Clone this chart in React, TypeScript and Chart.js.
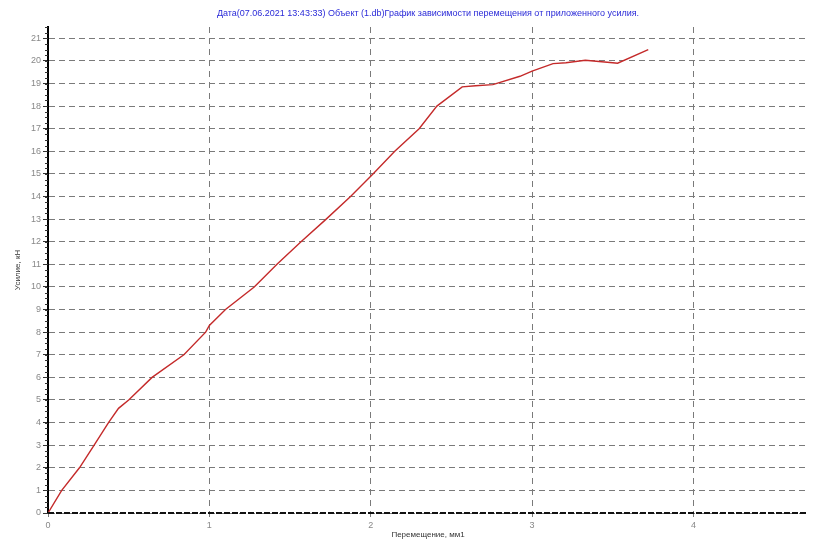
import React, { useEffect, useRef } from "react";
import { Chart, registerables } from "chart.js";

Chart.register(...registerables);

const titleText =
  "Дата(07.06.2021 13:43:33) Объект (1.db)График зависимости перемещения от приложенного усилия.";
const xTitle = "Перемещение, мм1";
const yTitle = "Усилие, кН";

const displacement = [
  0, 0.085, 0.195, 0.286, 0.375, 0.437, 0.5, 0.645, 0.842, 0.977, 1.0, 1.1, 1.278, 1.419, 1.568,
  1.724, 1.875, 2.014, 2.149, 2.3, 2.41, 2.567, 2.65, 2.757, 2.925, 3.0, 3.13, 3.21, 3.33, 3.5,
  3.53, 3.72,
];
const force = [
  0, 1, 2, 3, 4, 4.63, 5, 6, 7, 8, 8.3, 9, 10, 11, 12, 13, 14, 15, 16, 17, 18, 18.85, 18.9, 18.95,
  19.32, 19.55, 19.88, 19.92, 20.03, 19.92, 19.9, 20.5,
];
const xTicks = [0, 1, 2, 3, 4];
const yTicks = Array.from({ length: 22 }, (_, i) => i);

const FONT = "'Liberation Sans', Arial, sans-serif";

const titlePlugin = {
  id: "topTitle",
  afterDraw(chart: any) {
    const ctx = chart.ctx;
    ctx.save();
    ctx.font = `9px ${FONT}`;
    ctx.fillStyle = "#2a2ad8";
    ctx.textAlign = "center";
    ctx.textBaseline = "middle";
    ctx.fillText(titleText, 428, 14);
    ctx.restore();
  },
};

const axisPlugin = {
  id: "axisDecor",
  afterDatasetsDraw(chart: any) {
    const ctx = chart.ctx;
    const ys = chart.scales.y;
    const { left, right } = chart.chartArea;
    ctx.save();
    // dashed black x axis line at y = 0
    const y0 = ys.getPixelForValue(0);
    ctx.strokeStyle = "#111";
    ctx.lineWidth = 2;
    ctx.setLineDash([6, 2]);
    ctx.beginPath();
    ctx.moveTo(left, y0);
    ctx.lineTo(right, y0);
    ctx.stroke();
    ctx.setLineDash([]);
    // minor ticks on y axis
    ctx.strokeStyle = "#333";
    ctx.lineWidth = 1;
    for (let v = 0; v <= ys.max + 1e-9; v += 0.25) {
      const p = Math.round(ys.getPixelForValue(v)) + 0.5;
      ctx.beginPath();
      ctx.moveTo(left - 3, p);
      ctx.lineTo(left, p);
      ctx.stroke();
    }
    ctx.restore();
  },
};

export default function App() {
  const ref = useRef<HTMLCanvasElement | null>(null);
  useEffect(() => {
    if (!ref.current) return;
    const chart = new Chart(ref.current, {
      type: "scatter",
      data: {
        datasets: [
          {
            data: displacement.map((x, i) => ({ x, y: force[i] })),
            showLine: true,
            borderColor: "#c42a2a",
            borderWidth: 1.4,
            pointRadius: 0,
            tension: 0,
          },
        ],
      },
      options: {
        animation: false,
        responsive: false,
        maintainAspectRatio: false,
        layout: { padding: { top: 27, right: 6, left: 0, bottom: 0 } },
        plugins: { legend: { display: false }, tooltip: { enabled: false }, title: { display: false } },
        scales: {
          x: {
            type: "linear",
            min: 0,
            max: 4.71,
            afterBuildTicks: (s: any) => {
              s.ticks = xTicks.map((v) => ({ value: v }));
            },
            afterFit: (s: any) => {
              s.height = 28;
            },
            grid: {
              color: "#7a7a7a",
              lineWidth: 1,
              drawTicks: true,
              tickLength: 4,
              tickColor: "#7a7a7a",
            },
            border: { display: false, dash: [6, 5] },
            ticks: {
              font: { family: FONT, size: 9 },
              color: "#888",
              padding: 3,
              maxRotation: 0,
            },
            title: {
              display: true,
              text: xTitle,
              font: { family: FONT, size: 8 },
              color: "#333",
              padding: { top: 0, bottom: 1 },
            },
          },
          y: {
            type: "linear",
            min: 0,
            max: 21.5,
            afterBuildTicks: (s: any) => {
              s.ticks = yTicks.map((v) => ({ value: v }));
            },
            afterFit: (s: any) => {
              s.width = 48;
            },
            grid: {
              color: "#7a7a7a",
              lineWidth: 1,
              drawTicks: true,
              tickLength: 5,
              tickColor: "#333",
            },
            border: { display: true, color: "#000", width: 2, dash: [6, 4] },
            ticks: {
              font: { family: FONT, size: 9 },
              color: "#888",
              padding: 2,
            },
            title: {
              display: true,
              text: yTitle,
              font: { family: FONT, size: 8 },
              color: "#333",
              padding: { top: 13, bottom: 0 },
            },
          },
        },
      } as any,
      plugins: [titlePlugin, axisPlugin],
    });
    return () => chart.destroy();
  }, []);
  return (
    <div style={{ position: "fixed", left: 0, top: 0, width: 814, height: 541, background: "#fff" }}>
      <canvas ref={ref} width={814} height={541} style={{ width: 814, height: 541 }} />
    </div>
  );
}
